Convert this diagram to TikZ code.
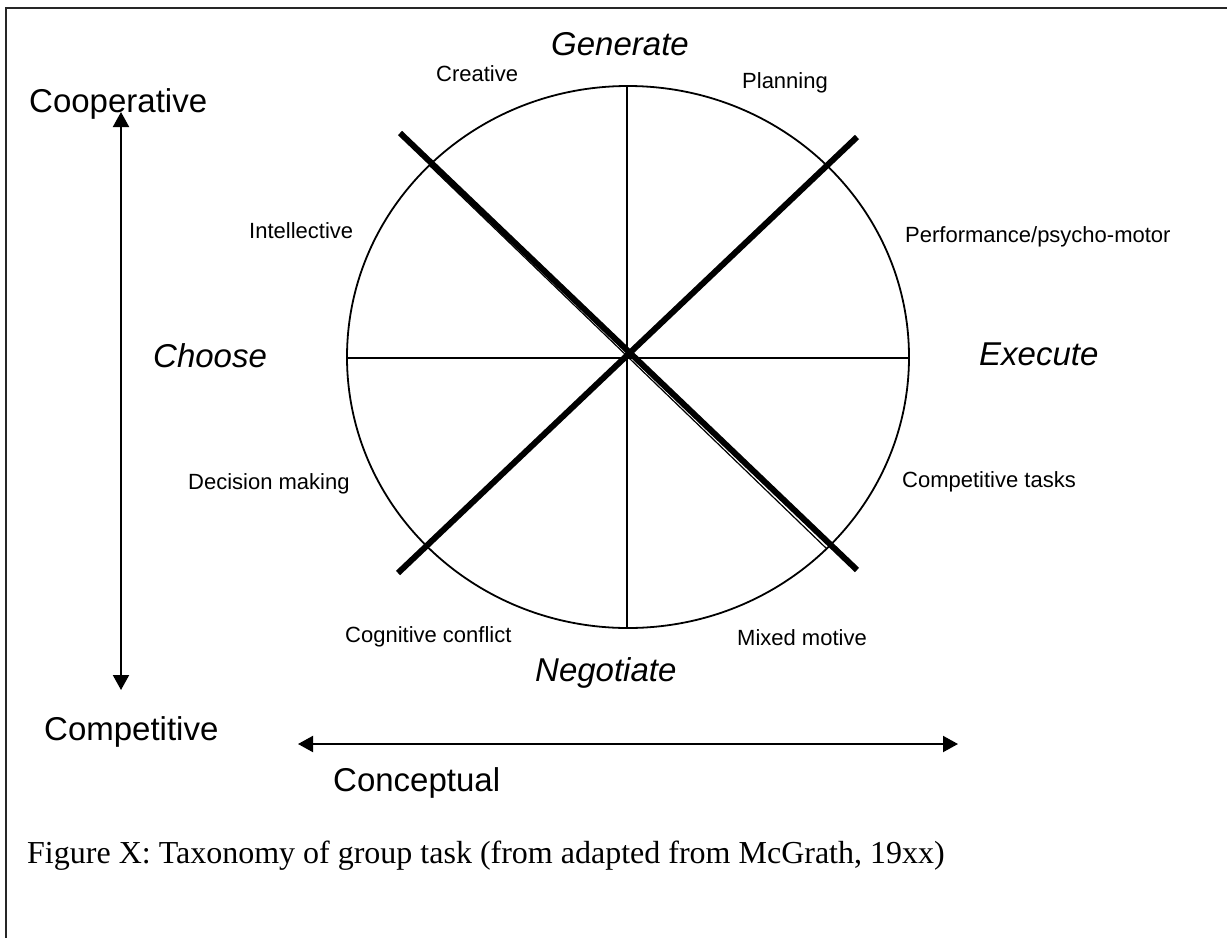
\documentclass[tikz,border=0pt]{standalone}
\usepackage{fontspec}
\setmainfont{Liberation Sans}
\newfontfamily\capserif{Liberation Serif}
\usetikzlibrary{arrows.meta}
\begin{document}
\begin{tikzpicture}[x=1pt,y=-1pt,
  small/.style={anchor=base west,inner sep=0pt,font=\fontsize{22}{26}\selectfont},
  big/.style={anchor=base west,inner sep=0pt,font=\fontsize{33}{38}\selectfont},
  bigit/.style={anchor=base west,inner sep=0pt,font=\fontsize{33}{38}\selectfont\itshape},
  thick cross/.style={line width=6pt},
  thinline/.style={line width=1.6pt},
  axisarrow/.style={line width=2pt,{Triangle[width=16pt,length=15pt]}-{Triangle[width=16pt,length=15pt]}}]
\useasboundingbox (0,0) rectangle (1227,938);
% frame
\coordinate (fr1) at (1227,8);
\coordinate (fr2) at (6,8);
\coordinate (fr3) at (6,938);
\draw[line width=2pt,black!85] (fr1) -- (fr2) -- (fr3);
% circle
\coordinate (c) at (628,357);
\draw[line width=1.8pt] (c) ellipse [x radius=281, y radius=271];
\coordinate (top) at (627,86);
\coordinate (bot) at (627,628);
\coordinate (lft) at (347,358);
\coordinate (rgt) at (909,358);
\draw[thinline] (top) -- (bot);
\draw[thinline] (lft) -- (rgt);
% thin diagonal (partly hidden under the thick line)
\coordinate (d1) at (429,165);
\coordinate (d2) at (827,549);
\draw[line width=1.2pt] (d1) -- (d2);
% thick cross
\coordinate (nw) at (400,133);
\coordinate (se) at (857,570);
\coordinate (sw) at (398,573);
\coordinate (ne) at (857,137);
\draw[thick cross] (nw) -- (se);
\draw[thick cross] (sw) -- (ne);
% axis arrows
\coordinate (vt) at (121,112);
\coordinate (vb) at (121,690);
\draw[axisarrow] (vb) -- (vt);
\coordinate (hl) at (298,744);
\coordinate (hr) at (958,744);
\draw[axisarrow] (hl) -- (hr);
% labels
\node[bigit] (gen) at (551,55) {Generate};
\node[small] (cre) at (436,81) {Creative};
\node[small] (pla) at (742,88) {Planning};
\node[big] (coop) at (29,112) {Cooperative};
\node[small] (int) at (249,238) {Intellective};
\node[small] (perf) at (905,242) {Performance/psycho-motor};
\node[bigit] (cho) at (153,367) {Choose};
\node[bigit] (exe) at (979,365) {Execute};
\node[small] (dec) at (188,489) {Decision making};
\node[small] (ctask) at (902,487) {Competitive tasks};
\node[small] (cog) at (345,642) {Cognitive conflict};
\node[small] (mix) at (737,645) {Mixed motive};
\node[bigit] (neg) at (535,681) {Negotiate};
\node[big] (comp) at (44,740) {Competitive};
\node[big] (conc) at (333,791) {Conceptual};
\node[anchor=base west,inner sep=0pt,font=\capserif\fontsize{32}{36}\selectfont] (cap) at (27,863) {Figure X: Taxonomy of group task (from adapted from McGrath, 19xx)};
\end{tikzpicture}
\end{document}
